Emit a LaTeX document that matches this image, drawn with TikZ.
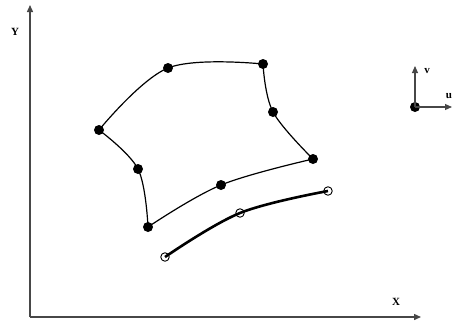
\documentclass[tikz,border=0pt]{standalone}
\usepackage{fontspec}
\setmainfont{Liberation Serif}
\usetikzlibrary{arrows.meta}
\begin{document}
\begin{tikzpicture}[x=1pt,y=-1pt,
  axis/.style={draw=black!72,line width=1.4pt,-{Triangle[length=7pt,width=6pt]}},
  lbl/.style={font=\bfseries\fontsize{11}{12}\selectfont,inner sep=0pt},
  dot/.style={circle,fill=black,inner sep=0pt,minimum size=10pt},
  odot/.style={circle,draw=black,line width=0.9pt,inner sep=0pt,minimum size=8.5pt},
  curve/.style={line width=1.2pt},
  thickcurve/.style={line width=2.6pt}]
\useasboundingbox (0,0) rectangle (453,322);
% axes
\coordinate (O) at (30,317);
\coordinate (Yt) at (30,5);
\coordinate (Xt) at (421,317);
\draw[axis] (O) -- (Yt);
\draw[axis] (O) -- (Xt);
\node[lbl] (ylab) at (15,32) {Y};
\node[lbl] (xlab) at (396,302) {X};
% u-v frame
\node[dot] (uv) at (415,107) {};
\coordinate (vt) at (415,66);
\coordinate (ut) at (452,107);
\draw[axis,line width=1.1pt] (uv.center) -- (vt);
\draw[axis,line width=1.1pt] (uv.center) -- (ut);
\node[lbl] (vlab) at (427,71) {v};
\node[lbl] (ulab) at (449,96) {u};
% grid points
\coordinate (A) at (99,130);
\coordinate (B) at (168,68);
\coordinate (C) at (263,64);
\coordinate (D) at (273,112);
\coordinate (E) at (313,159);
\coordinate (F) at (221,185);
\coordinate (G) at (148,227);
\coordinate (H) at (138,169);
\draw[curve] plot[smooth,tension=0.6] coordinates {(99,130) (168,68) (263,64)};
\draw[curve] plot[smooth,tension=0.6] coordinates {(263,64) (273,112) (313,159)};
\draw[curve] plot[smooth,tension=0.6] coordinates {(313,159) (221,185) (148,227)};
\draw[curve] plot[smooth,tension=0.6] coordinates {(148,227) (138,169) (99,130)};
\foreach \p in {A,B,C,D,E,F,G,H} \node[dot] (n\p) at (\p) {};
% thick curve
\coordinate (P) at (165,257);
\coordinate (Q) at (240,213);
\coordinate (R) at (328,191);
\draw[thickcurve] plot[smooth,tension=0.6] coordinates {(165,257) (240,213) (328,191)};
\node[odot] (nP) at (P) {};
\node[odot] (nQ) at (Q) {};
\node[odot] (nR) at (R) {};
\end{tikzpicture}
\end{document}
